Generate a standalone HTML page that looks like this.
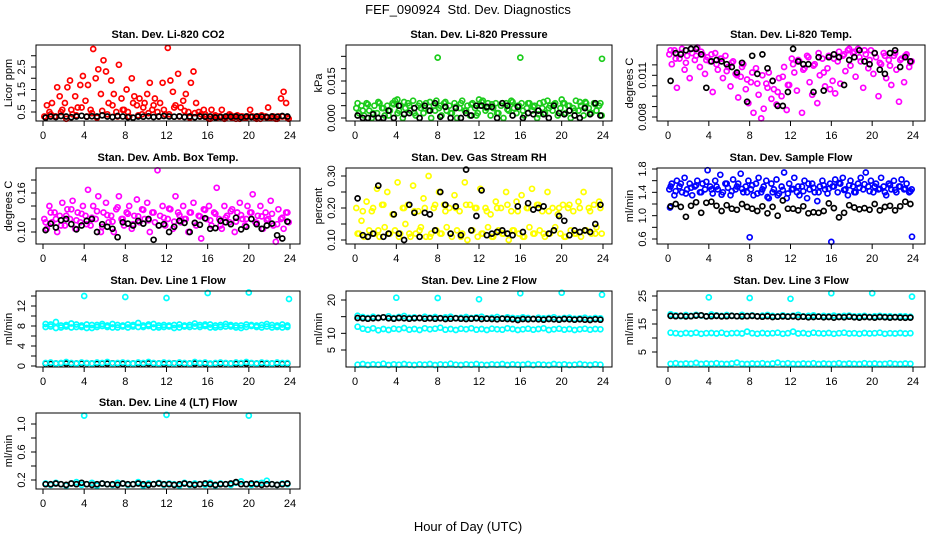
<!DOCTYPE html>
<html><head><meta charset="utf-8"><style>
html,body{margin:0;padding:0;background:#fff;}
svg{display:block;font-family:"Liberation Sans",Arial,sans-serif;}
</style></head><body>
<svg id="c" width="936" height="540" viewBox="0 0 936 540">
<text x="468" y="14" text-anchor="middle" font-size="13" style="white-space:pre">FEF_090924&#160; Std. Dev. Diagnostics</text>
<text x="468" y="531" text-anchor="middle" font-size="13">Hour of Day (UTC)</text>
</svg>
<script>
// ---------- data ----------
const co2Red=[0.3,0.8,0.5,0.9,0.3,1.6,1.2,0.6,0.9,1.6,1.9,0.4,1.2,0.7,1.7,2.1,
1.0,1.7,0.6,3.3,2.0,2.4,1.3,2.8,2.3,0.9,1.9,1.3,0.5,2.6,1.1,0.6,
1.5,0.3,2.0,1.2,0.8,1.1,0.4,0.9,1.3,1.8,0.6,1.1,0.5,0.9,1.8,0.4,
3.35,1.9,1.4,0.8,2.2,0.7,1.0,1.3,0.5,1.8,2.3,0.9,0.5,0.4,0.6,0.3,
0.2,0.6,0.3,0.25,0.3,0.6,0.2,0.3,0.4,0.25,0.3,0.35,0.2,0.3,0.25,0.3,
0.6,0.3,0.25,0.3,0.2,0.3,0.3,0.7,0.25,0.3,0.2,0.3,1.1,1.4,0.9,0.2];
const co2RedBase=[0.25,0.4,0.3,0.5,0.2,0.6,0.35,0.7,0.3,0.45,0.25,0.55,0.4,0.8,0.3,0.6,0.5,0.9,0.35,0.7,0.45,0.8,0.3,0.6,
0.4,0.7,0.3,0.55,0.25,0.45,0.3,0.4,0.2,0.35,0.3,0.25,0.35,0.2,0.3,0.25,0.3,0.2,0.35,0.25,0.3,0.2,0.3,0.25];
const co2Black=[0.25,0.3,0.28,0.32,0.3,0.27,0.3,0.33,0.29,0.31,0.3,0.35,0.3,0.28,0.32,0.3,0.27,0.25,0.3,0.29,0.31,0.28,0.3,0.32,
0.3,0.29,0.31,0.28,0.3,0.27,0.3,0.29,0.3,0.26,0.28,0.3,0.29,0.3,0.27,0.3,0.28,0.3,0.29,0.28,0.3,0.29,0.32,0.3];
const presGreen=[0.004,0.002,0.005,0.001,0.006,0.003,0.000,0.005,0.002,0.006,0.004,0.001,0.005,0.003,0.006,0.007,
0.002,0.005,0.000,0.004,0.006,0.003,0.007,0.001,0.005,0.004,0.002,0.006,0.003,0.000,0.005,0.007,
0.004,0.001,0.006,0.003,0.005,0.002,0.006,0.000,0.004,0.007,0.003,0.005,0.001,0.006,0.004,0.002,
0.005,0.007,0.003,0.006,0.001,0.004,0.006,0.002,0.005,0.000,0.006,0.003,0.007,0.004,0.002,0.005,
0.006,0.001,0.004,0.006,0.003,0.005,0.000,0.006,0.004,0.002,0.007,0.005,0.003,0.006,0.001,0.004,
0.006,0.002,0.005,0.000,0.004,0.007,0.003,0.005,0.001,0.006,0.004,0.002,0.006,0.003,0.005,0.001];
const presGreen2=[0.006,0.003,0.0055,0.002,0.0065,0.004,0.001,0.0055,0.003,0.0065,0.005,0.002,0.006,0.004,0.0065,0.003,
0.005,0.0065,0.002,0.0045,0.006,0.003,0.0055,0.001,0.0065,0.004,0.0055,0.002,0.006,0.0035,0.0065,0.005,
0.003,0.006,0.0045,0.0015,0.0065,0.004,0.0055,0.002,0.006,0.005,0.003,0.0065,0.0045,0.002,0.0055,0.006];
const presOutHours=[8,16,23.9,4.1,12,20,22.3];
const presOutVals=[0.0245,0.0245,0.024,0.0075,0.0075,0.0075,0.0065];
const presBlack=[0.001,0,0,0.0015,0,0,0.003,0,0.005,0.0015,0.002,0.004,0,0.005,0.003,0.006,0.0005,0.0045,0,0.004,0,0.002,0.001,0.005,
0.005,0.0045,0.0045,0,0.006,0.005,0.001,0.0045,0,0.002,0.0015,0.003,0.0015,0,0.005,0.002,0.0015,0.003,0.001,0,0.004,0.0015,0.006,0.001];
const tempMag=[0.0125,0.0118,0.0128,0.0101,0.0122,0.0129,0.0114,0.0124,0.0108,0.0126,0.0121,0.0130,0.0116,0.0125,0.0111,0.0123,
0.0120,0.0098,0.0126,0.0114,0.0122,0.0108,0.0124,0.0116,0.0102,0.0120,0.0111,0.0094,0.0109,0.0118,0.0100,0.0090,
0.0105,0.0083,0.0115,0.0096,0.0079,0.0086,0.0104,0.0112,0.0093,0.0100,0.0089,0.0108,0.0095,0.0116,0.0085,0.0103,
0.0122,0.0112,0.0099,0.0120,0.0083,0.0115,0.0124,0.0105,0.0096,0.0118,0.0090,0.0110,0.0122,0.0102,0.0115,0.0100,
0.0106,0.0097,0.0120,0.0104,0.0124,0.0113,0.0128,0.0117,0.0126,0.0109,0.0129,0.0120,0.0101,0.0125,0.0115,0.0128,
0.0111,0.0123,0.0095,0.0118,0.0126,0.0108,0.0121,0.0103,0.0124,0.0114,0.0091,0.0122,0.0105,0.0125,0.0116,0.0120];
const tempMag2=[0.0128,0.0122,0.0126,0.0119,0.0129,0.0124,0.0127,0.0121,0.0125,0.0118,0.0122,0.0113,0.0119,0.0110,0.0116,0.0107,
0.0112,0.0104,0.0110,0.0101,0.0106,0.0098,0.0109,0.0103,0.0118,0.0121,0.0114,0.0123,0.0117,0.0126,0.0112,0.0124,
0.0122,0.0127,0.0125,0.0129,0.0127,0.0123,0.0128,0.0121,0.0126,0.0119,0.0124,0.0117,0.0126,0.0121,0.0124,0.0119];
const tempBlack=[0.0106,0.0126,0.0125,0.0128,0.0129,0.0129,0.0125,0.0101,0.0120,0.0121,0.0120,0.0118,0.0116,0.0112,0.0119,0.0091,
0.0124,0.0111,0.0125,0.0115,0.0106,0.0088,0.0088,0.0098,0.0129,0.0120,0.0118,0.0118,0.0098,0.0123,0.0099,0.0123,
0.0125,0.0123,0.0103,0.0121,0.0123,0.0128,0.0120,0.0118,0.0126,0.0114,0.0111,0.0126,0.0128,0.0116,0.0123,0.0120];
const ambMag=[0.12,0.105,0.14,0.115,0.13,0.10,0.125,0.145,0.11,0.135,0.12,0.148,0.105,0.13,0.115,0.14,
0.125,0.165,0.11,0.14,0.12,0.155,0.10,0.13,0.145,0.115,0.125,0.10,0.135,0.155,0.12,0.11,
0.13,0.14,0.105,0.125,0.15,0.115,0.135,0.12,0.145,0.10,0.13,0.115,0.195,0.125,0.14,0.11,
0.12,0.135,0.105,0.155,0.13,0.115,0.14,0.12,0.10,0.13,0.145,0.11,0.125,0.09,0.135,0.12,
0.14,0.11,0.13,0.168,0.12,0.105,0.14,0.125,0.115,0.135,0.10,0.13,0.145,0.12,0.11,0.14,
0.13,0.158,0.115,0.125,0.14,0.105,0.13,0.12,0.148,0.11,0.085,0.135,0.12,0.105,0.13,0.115];
const ambMag2=[0.115,0.13,0.12,0.11,0.125,0.135,0.118,0.128,0.112,0.122,0.132,0.108,0.126,0.116,0.138,0.12,
0.128,0.112,0.124,0.134,0.118,0.13,0.11,0.122,0.136,0.116,0.126,0.12,0.13,0.114,0.124,0.134,
0.118,0.128,0.11,0.122,0.132,0.116,0.126,0.12,0.13,0.114,0.124,0.118,0.128,0.112,0.122,0.13];
const ambBlack=[0.103,0.113,0.107,0.118,0.12,0.112,0.104,0.11,0.117,0.12,0.1,0.112,0.108,0.105,0.092,0.115,0.113,0.11,0.117,0.113,0.12,0.088,0.11,0.112,
0.1,0.108,0.117,0.114,0.1,0.114,0.111,0.121,0.105,0.106,0.117,0.115,0.112,0.122,0.104,0.108,0.12,0.112,0.105,0.11,0.113,0.095,0.09,0.116];
const rhYellow=[0.2,0.12,0.16,0.11,0.22,0.13,0.19,0.12,0.26,0.11,0.21,0.14,0.25,0.12,0.18,0.13,
0.28,0.12,0.2,0.15,0.21,0.11,0.27,0.12,0.19,0.14,0.23,0.11,0.3,0.12,0.2,0.13,
0.25,0.12,0.21,0.14,0.2,0.11,0.24,0.13,0.19,0.12,0.28,0.1,0.21,0.13,0.2,0.11,
0.26,0.12,0.2,0.14,0.18,0.11,0.22,0.13,0.2,0.12,0.25,0.1,0.19,0.13,0.22,0.12,
0.24,0.11,0.2,0.14,0.26,0.12,0.21,0.13,0.19,0.11,0.25,0.12,0.2,0.14,0.18,0.12,
0.21,0.11,0.2,0.13,0.19,0.12,0.22,0.11,0.25,0.13,0.2,0.12,0.21,0.14,0.22,0.12];
const rhYellow2=[0.12,0.19,0.11,0.2,0.13,0.21,0.12,0.18,0.11,0.2,0.12,0.19,0.13,0.2,0.11,0.21,
0.12,0.19,0.12,0.2,0.11,0.21,0.13,0.2,0.12,0.19,0.11,0.2,0.12,0.21,0.13,0.19,
0.11,0.2,0.12,0.21,0.12,0.19,0.13,0.2,0.11,0.21,0.12,0.2,0.13,0.19,0.12,0.2];
const rhBlack=[0.23,0.115,0.11,0.12,0.27,0.11,0.12,0.18,0.12,0.1,0.21,0.185,0.11,0.185,0.18,0.13,0.25,0.21,0.12,0.205,0.115,0.32,0.13,0.175,
0.255,0.115,0.12,0.125,0.13,0.12,0.115,0.205,0.125,0.215,0.195,0.2,0.205,0.12,0.13,0.175,0.16,0.115,0.13,0.125,0.13,0.125,0.15,0.21];
const flowBlue=[1.45,1.55,1.35,1.6,1.5,1.4,1.65,1.45,1.55,1.35,1.5,1.6,1.4,1.55,1.45,1.78,
1.5,1.38,1.6,1.45,1.7,1.4,1.55,1.48,1.35,1.62,1.45,1.55,1.72,1.4,1.5,1.6,
1.45,1.35,1.55,1.65,1.4,1.5,1.6,1.3,1.55,1.45,1.62,1.38,1.5,1.74,1.3,1.55,
1.45,1.65,1.4,1.35,1.5,1.6,1.3,1.45,1.55,1.4,1.25,1.5,1.6,1.45,1.38,1.55,
1.5,1.62,1.4,1.55,1.65,1.45,1.35,1.6,1.5,1.4,1.55,1.65,1.45,1.74,1.5,1.6,
1.4,1.55,1.45,1.65,1.5,1.35,1.55,1.45,1.6,1.4,1.5,1.62,1.45,1.55,1.4,1.45];
const flowBlue2=[1.5,1.42,1.55,1.38,1.48,1.52,1.4,1.58,1.45,1.5,1.36,1.55,1.42,1.5,1.46,1.4,
1.52,1.38,1.45,1.32,1.4,1.35,1.44,1.38,1.46,1.5,1.42,1.55,1.48,1.4,1.52,1.46,
1.5,1.56,1.44,1.52,1.4,1.48,1.54,1.42,1.5,1.46,1.4,1.52,1.44,1.5,1.46,1.42];
const flowOutHours=[8,16,23.9,0.2];
const flowOutVals=[0.63,0.55,0.64,1.14];
const flowBlack=[1.16,1.2,1.15,0.98,1.17,1.23,1.05,1.22,1.24,1.17,1.08,1.18,1.12,1.1,1.2,1.15,1.12,1.08,1.16,1.04,1.15,1.0,1.26,1.12,
1.12,1.09,1.16,1.04,1.06,1.05,1.08,1.21,1.13,0.97,1.05,1.18,1.14,1.11,1.13,1.1,1.2,1.09,1.15,1.17,1.09,1.16,1.24,1.2];
const spikeHours=[4,8,12,16,20,23.9];
const l1Band=[8.4,7.9,8.8,7.7,8.2,8.5,7.8,8.1,8.3,7.6,8.2,8.0,7.8,8.4,7.7,8.1,8.3,7.9,8.6,7.8,8.0,8.4,7.7,8.2,
8.1,7.6,8.3,7.9,8.2,8.5,7.8,8.0,8.3,7.7,8.2,8.4,7.9,8.1,7.6,8.3,8.0,7.8,8.2,8.4,7.7,8.1,8.3,7.8];
const l1Band2=[7.8,8.3,7.6,8.1,7.9,7.7,8.3,7.8,7.6,8.2,7.8,8.4,8.1,7.7,8.2,7.9,7.7,8.2,7.8,8.1,8.3,7.7,8.1,7.8,
7.9,8.2,7.7,8.1,7.8,7.9,8.2,8.3,7.7,8.1,7.8,7.9,8.2,7.7,8.1,7.8,8.2,8.1,7.7,7.9,8.2,7.8,7.7,8.1];
const l1Low=[0.6,0.7,0.5,0.6,0.8,0.6,0.5,0.7,0.6,0.5,0.7,0.6,0.8,0.5,0.6,0.7,0.6,0.5,0.7,0.6,0.8,0.6,0.5,0.7,
0.6,0.5,0.7,0.6,0.5,0.8,0.6,0.7,0.5,0.6,0.7,0.6,0.5,0.7,0.6,0.8,0.6,0.5,0.7,0.6,0.5,0.7,0.6,0.6];
const l1Black=[0.5,0.45,0.5,0.55,0.5,0.45,0.5,0.5,0.55,0.5,0.45,0.5,0.5,0.55,0.5,0.45,0.5,0.5,0.5,0.45,0.55,0.5,0.5,0.45,
0.5,0.55,0.5,0.45,0.5,0.5,0.55,0.5,0.45,0.5,0.5,0.55,0.5,0.45,0.5,0.5,0.55,0.5,0.45,0.5,0.5,0.5,0.45,0.5];
const l1Spike=[14,13.8,13.6,14.6,14.7,13.4];
const l2Top=[15.3,14.9,14.6,15.0,14.7,14.8,15.1,14.6,14.9,15.2,14.7,14.8,14.6,15.0,14.7,14.9,14.6,14.8,15.0,14.6,14.7,14.9,14.6,14.8,
15.0,14.5,14.7,14.9,14.5,14.8,14.6,14.5,14.8,14.6,14.4,14.7,14.5,14.6,14.8,14.4,14.6,14.7,14.4,14.5,14.7,14.4,14.6,14.5];
const l2Black=[14.6,14.5,14.4,14.5,14.6,14.8,14.5,14.4,14.6,14.5,14.4,14.5,14.6,14.4,14.5,14.4,14.5,14.3,14.4,14.5,14.4,14.3,14.4,14.5,
14.3,14.4,14.3,14.2,14.4,14.3,14.2,14.0,14.3,14.2,14.3,14.2,14.1,14.3,14.2,14.1,14.3,14.2,14.1,14.2,14.1,14.0,14.2,14.1];
const l2Mid=[12.0,11.4,11.1,11.5,10.9,11.3,11.0,11.4,11.2,11.6,11.1,11.3,11.0,11.5,11.2,11.4,11.7,11.1,11.3,11.0,11.4,11.2,11.5,11.1,
11.3,11.0,11.4,11.2,11.1,11.5,11.3,11.0,11.2,11.4,11.1,11.3,11.5,11.0,11.2,11.4,11.1,11.3,11.0,11.2,11.4,11.1,11.3,11.2];
const l2Low=[0.6,0.8,0.5,0.7,0.6,0.9,0.5,0.7,0.6,0.8,0.6,0.5,0.7,0.6,0.8,0.5,0.7,0.6,0.9,0.6,0.5,0.7,0.6,0.8,
0.6,0.5,0.7,0.6,0.8,0.5,0.7,0.6,0.6,0.8,0.5,0.7,0.6,0.5,0.8,0.6,0.7,0.5,0.6,0.8,0.6,0.5,0.7,0.6];
const l2Spike=[20.7,20.6,20.2,22,22.2,21.6];
const l3Top=[18.5,18.1,17.8,18.2,17.9,18.3,18.0,17.8,18.4,18.1,17.9,18.2,18.0,17.8,18.3,17.9,18.1,17.8,18.0,18.2,17.9,17.7,18.1,17.8,
18.0,18.3,17.8,17.9,18.1,17.7,17.9,17.8,18.0,17.7,17.9,18.0,17.7,17.8,17.9,17.6,17.8,17.9,17.7,17.8,17.6,17.8,17.7,17.6];
const l3Black=[17.9,17.8,17.9,17.7,17.8,18.0,18.1,17.7,17.8,17.9,17.7,17.8,17.9,17.8,17.7,17.8,17.9,17.7,17.6,17.8,17.5,17.6,17.7,17.6,
17.7,17.5,17.6,17.4,17.5,17.6,17.4,17.5,17.3,17.5,17.4,17.6,17.4,17.3,17.5,17.4,17.3,17.5,17.4,17.3,17.4,17.3,17.2,17.3];
const l3Mid=[11.9,11.7,11.5,11.8,11.6,11.9,11.5,11.7,11.8,11.6,11.9,11.5,11.7,11.8,11.6,12.3,11.7,11.5,11.8,11.6,11.7,11.9,11.5,11.7,
12.3,11.6,11.8,11.5,11.9,11.7,11.6,11.8,11.5,11.7,11.9,11.6,11.7,11.5,11.8,11.6,11.7,11.9,11.5,11.7,11.6,11.8,11.6,11.7];
const l3Low=[0.8,1.0,0.7,0.9,0.8,1.1,0.7,0.9,0.8,1.0,0.8,0.7,0.9,1.2,0.8,0.7,0.9,0.8,1.0,0.7,0.9,1.2,0.8,1.0,
0.8,0.7,0.9,0.8,1.0,0.7,0.9,0.8,0.8,1.0,0.7,0.9,0.8,0.7,1.0,0.8,0.9,0.7,0.8,1.0,0.8,0.7,0.9,0.8];
const l3Spike=[24.5,24.3,24,26,26,24.8];
const l4Band=[0.15,0.13,0.16,0.14,0.12,0.15,0.17,0.13,0.14,0.16,0.12,0.15,0.14,0.13,0.16,0.15,0.13,0.14,0.17,0.12,0.15,0.14,0.16,0.13,
0.15,0.14,0.12,0.16,0.13,0.15,0.14,0.13,0.16,0.12,0.15,0.14,0.13,0.16,0.18,0.14,0.13,0.15,0.16,0.19,0.14,0.13,0.15,0.14];
const l4Black=[0.14,0.14,0.15,0.14,0.13,0.15,0.14,0.16,0.14,0.13,0.14,0.15,0.14,0.14,0.13,0.15,0.14,0.14,0.15,0.14,0.13,0.14,0.15,0.14,
0.14,0.13,0.14,0.15,0.14,0.13,0.14,0.15,0.14,0.13,0.14,0.14,0.15,0.17,0.14,0.14,0.15,0.14,0.13,0.14,0.14,0.13,0.14,0.15];
const l4Spike=[1.12,1.13,1.12];
const l4SpikeHours=[4,12,20];
// tick values
const xTicks=[0,4,8,12,16,20,24];
const yTicksCO2=[0.5,1,1.5,2,2.5,3], yLabCO2=[0.5,1.5,2.5];
const yTicksPres=[0,0.005,0.01,0.015,0.02,0.025], yLabPres=[0,0.015];
const yTicksTemp=[0.008,0.00875,0.0095,0.01025,0.011,0.01175], yLabTemp=[0.008,0.011];
const yTicksAmb=[0.10,0.12,0.14,0.16,0.18], yLabAmb=[0.10,0.16];
const yTicksRH=[0.10,0.15,0.20,0.25,0.30], yLabRH=[0.10,0.20,0.30];
const yTicksFlow=[0.6,0.8,1.0,1.2,1.4,1.6,1.8], yLabFlow=[0.6,1.0,1.4,1.8];
const yTicksL1=[0,2,4,6,8,10,12,14], yLabL1=[0,4,8,12];
const yTicksL2=[5,10,15,20], yLabL2=[5,10,20];
const yTicksL3=[5,10,15,20,25], yLabL3=[5,15,25];
const yTicksL4=[0.2,0.4,0.6,0.8,1.0], yLabL4=[0.2,0.6,1.0];

// ---------- layout ----------
const NS='http://www.w3.org/2000/svg';
const svg=document.getElementById('c');
const cols=[{l:36,r:300,x0:43,x24:290,tl:22,yl:9},{l:346,r:612,x0:355,x24:603,tl:332,yl:319},{l:657,r:925,x0:668,x24:913,tl:643,yl:630}];
const rows=[{t:45,b:121},{t:168,b:244},{t:291,b:367},{t:413,b:489}];
function mk(tag,attrs,parent){const e=document.createElementNS(NS,tag);for(const k in attrs)e.setAttribute(k,attrs[k]);(parent||svg).appendChild(e);return e;}
function fmt(v,d){return d===undefined?String(v):v.toFixed(d);}

const panels=[
 {name:'co2',title:'Stan. Dev. Li-820 CO2',ylab:'Licor ppm',c:0,r:0,cal:[0.5,112,2.5,67],ticks:yTicksCO2,labs:yLabCO2,dec:1,
  series:[{v:co2RedBase,col:'#ff0000'},{v:co2Red,col:'#ff0000'},{v:co2Black,col:'#000'}]},
 {name:'pressure',title:'Stan. Dev. Li-820 Pressure',ylab:'kPa',c:1,r:0,cal:[0,118,0.015,81],ticks:yTicksPres,labs:yLabPres,dec:3,
  series:[{v:presGreen,col:'#1ccc1c'},{v:presGreen2,col:'#1ccc1c'},{v:presOutVals,h:presOutHours,col:'#1ccc1c'},{v:presBlack,col:'#000'}]},
 {name:'temp',title:'Stan. Dev. Li-820 Temp.',ylab:'degrees C',c:2,r:0,cal:[0.008,117,0.011,75.3],ticks:yTicksTemp,labs:yLabTemp,dec:3,
  series:[{v:tempMag2,col:'#ff00ff'},{v:tempMag,col:'#ff00ff'},{v:tempBlack,col:'#000'}]},
 {name:'amb-box-temp',title:'Stan. Dev. Amb. Box Temp.',ylab:'degrees C',c:0,r:1,cal:[0.10,232,0.16,193],ticks:yTicksAmb,labs:yLabAmb,dec:2,
  series:[{v:ambMag2,col:'#ff00ff'},{v:ambMag,col:'#ff00ff'},{v:ambBlack,col:'#000'}]},
 {name:'gas-rh',title:'Stan. Dev. Gas Stream RH',ylab:'percent',c:1,r:1,cal:[0.10,240,0.30,176],ticks:yTicksRH,labs:yLabRH,dec:2,
  series:[{v:rhYellow2,col:'#ffff00'},{v:rhYellow,col:'#ffff00'},{v:rhBlack,col:'#000'}]},
 {name:'sample-flow',title:'Stan. Dev. Sample Flow',ylab:'ml/min',c:2,r:1,cal:[0.6,239,1.8,169],ticks:yTicksFlow,labs:yLabFlow,dec:1,
  series:[{v:flowBlue2,col:'#0000ff'},{v:flowBlue,col:'#0000ff'},{v:flowOutVals,h:flowOutHours,col:'#0000ff'},{v:flowBlack,col:'#000'}]},
 {name:'line1-flow',title:'Stan. Dev. Line 1 Flow',ylab:'ml/min',c:0,r:2,cal:[0,366,12,306],ticks:yTicksL1,labs:yLabL1,
  series:[{v:l1Band,col:'#00ffff'},{v:l1Band2,col:'#00ffff'},{v:l1Black,col:'#000'},{v:l1Low,col:'#00ffff'},{v:l1Spike,h:spikeHours,col:'#00ffff'}]},
 {name:'line2-flow',title:'Stan. Dev. Line 2 Flow',ylab:'ml/min',c:1,r:2,cal:[5,350,20,300],ticks:yTicksL2,labs:yLabL2,
  series:[{v:l2Top,col:'#00ffff'},{v:l2Mid,col:'#00ffff'},{v:l2Low,col:'#00ffff'},{v:l2Black,col:'#000'},{v:l2Spike,h:spikeHours,col:'#00ffff'}]},
 {name:'line3-flow',title:'Stan. Dev. Line 3 Flow',ylab:'ml/min',c:2,r:2,cal:[5,352,25,296],ticks:yTicksL3,labs:yLabL3,
  series:[{v:l3Top,col:'#00ffff'},{v:l3Mid,col:'#00ffff'},{v:l3Low,col:'#00ffff'},{v:l3Black,col:'#000'},{v:l3Spike,h:spikeHours,col:'#00ffff'}]},
 {name:'line4-flow',title:'Stan. Dev. Line 4 (LT) Flow',ylab:'ml/min',c:0,r:3,cal:[0.2,480,1.0,424],ticks:yTicksL4,labs:yLabL4,dec:1,
  series:[{v:l4Band,col:'#00ffff'},{v:l4Black,col:'#000'},{v:l4Spike,h:l4SpikeHours,col:'#00ffff'}]}
];

panels.forEach(p=>{
  const C=cols[p.c],R=rows[p.r];
  const g=mk('g',{});
  
  
  const xs=h=>C.x0+h*(C.x24-C.x0)/24;
  const k=(p.cal[3]-p.cal[1])/(p.cal[2]-p.cal[0]);
  const ys=v=>p.cal[1]+(v-p.cal[0])*k;
  const cx=(C.l+C.r)/2;
  const t=mk('text',{x:cx,y:R.t-7,'text-anchor':'middle','font-size':'11','font-weight':'bold'},g);
  t.textContent=p.title;
  
  
  const yl=mk('text',{x:C.yl,y:(R.t+R.b)/2,'text-anchor':'middle','font-size':'11',transform:`rotate(-90 ${C.yl} ${(R.t+R.b)/2})`,'dominant-baseline':'central'},g);
  yl.textContent=p.ylab;
  
  
  const pg=mk('g',{fill:'none','stroke-width':'1.7'},g);
  
  
  p.series.forEach(s=>{
    s.v.forEach((v,i)=>{
      const h=s.h?s.h[i]:(i+0.5)*24/s.v.length;
      const c=mk('circle',{cx:xs(h).toFixed(1),cy:ys(v).toFixed(1),r:'2.5',stroke:s.col},pg);
      
      
    });
  });
  const bx=mk('rect',{x:C.l,y:R.t,width:C.r-C.l,height:R.b-R.t,fill:'none',stroke:'#000','stroke-width':'1'},g);
  
  
  xTicks.forEach(h=>{
    mk('line',{x1:xs(h),x2:xs(h),y1:R.b,y2:R.b+5,stroke:'#000'},g);
    const tl=mk('text',{x:xs(h),y:R.b+18,'text-anchor':'middle','font-size':'11'},g);
    tl.textContent=h;
    
    
  });
  p.ticks.forEach(v=>{mk('line',{x1:C.l-5,x2:C.l,y1:ys(v),y2:ys(v),stroke:'#000'},g);});
  p.labs.forEach(v=>{
    const yy=ys(v);
    const tl=mk('text',{x:C.tl,y:yy,'text-anchor':'middle','font-size':'11','dominant-baseline':'central',transform:`rotate(-90 ${C.tl} ${yy})`},g);
    tl.textContent=fmt(v,p.dec);
    
    
  });
});
</script>
</body></html>
